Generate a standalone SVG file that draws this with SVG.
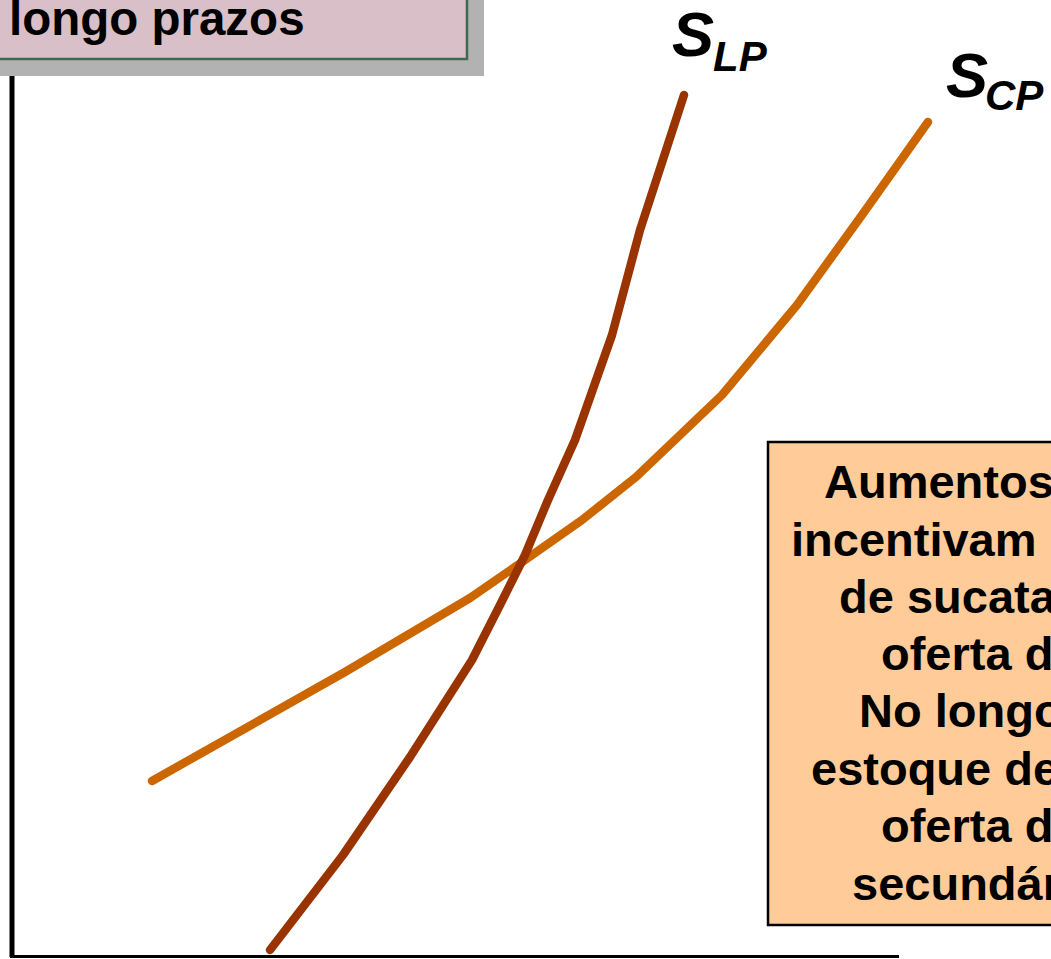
<svg xmlns="http://www.w3.org/2000/svg" width="1051" height="959" viewBox="0 0 1051 959">
<style>
.t{font-family:"Liberation Sans",Arial,sans-serif;font-weight:bold;fill:#000}
.box{font-size:47px}
.curve{fill:none;stroke-width:8.5;stroke-linecap:round;stroke-linejoin:round}
.ax{stroke:#000;fill:none}
</style>
<rect width="1051" height="959" fill="#fff"/>
<g id="axes">
<line class="ax" x1="12" y1="60" x2="12" y2="957" stroke-width="5"/>
<line class="ax" x1="10" y1="956.5" x2="899" y2="956.5" stroke-width="3"/>
</g>
<g id="title">
<rect x="0" y="0" width="484" height="76" fill="#B2B2B2"/>
<rect x="-5" y="-5" width="472" height="64" fill="#D8BFC8" stroke="#3E6B4E" stroke-width="2.5"/>
<text class="t" x="9" y="35" font-size="47.5">longo prazos</text>
</g>
<g id="connectors">
<polyline id="scp" class="curve" stroke="#CC6600" points="152,781 345,672 470,598 525,560 582,520 636,477 722,395 797,305 862,215 928,122"/>
<polyline id="slp" class="curve" stroke="#993300" points="270,950 343,855 410,757 472,660 500,605 525,555 548,500 575,440 612,335 640,230 684,95"/>
</g>
<g id="label-slp">
<text class="t" x="672" y="56" font-size="63" font-style="italic">S</text>
<text class="t" x="713" y="71" font-size="42" font-style="italic">LP</text>
</g>
<g id="label-scp">
<text class="t" x="946" y="97" font-size="63" font-style="italic">S</text>
<text class="t" x="985" y="110" font-size="42" font-style="italic">CP</text>
</g>
<g id="note">
<rect x="768" y="442" width="300" height="483" fill="#FFCC99" stroke="#000" stroke-width="2.5"/>
<text class="t box" x="824" y="498">Aumentos</text>
<text class="t box" x="791" y="556">incentivam</text>
<text class="t box" x="839" y="613">de sucata</text>
<text class="t box" x="881" y="670">oferta d</text>
<text class="t box" x="859" y="727">No longo</text>
<text class="t box" x="811" y="785">estoque de</text>
<text class="t box" x="881" y="842">oferta d</text>
<text class="t box" x="852" y="900">secundár</text>
</g>
</svg>
